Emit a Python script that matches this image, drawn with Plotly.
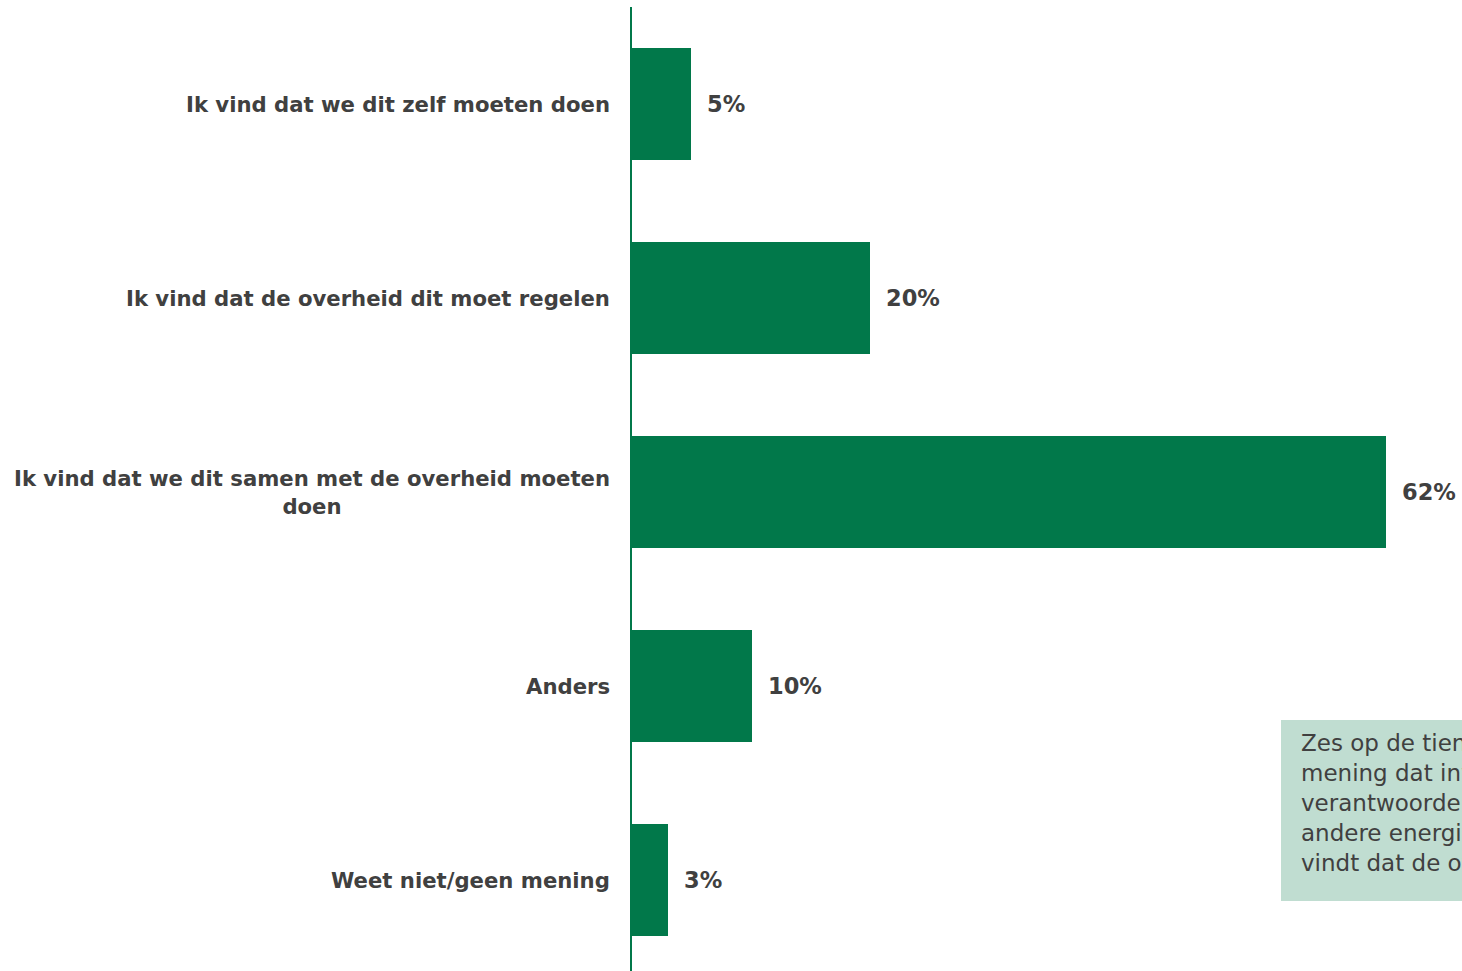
import plotly.graph_objects as go

categories = [
    "Ik vind dat we dit zelf moeten doen",
    "Ik vind dat de overheid dit moet regelen",
    "Ik vind dat we dit samen met de overheid moeten<br>doen",
    "Anders",
    "Weet niet/geen mening",
]
values = [4.9, 19.6, 62.0, 9.9, 3.0]
value_labels = ["5%", "20%", "62%", "10%", "3%"]
note_text = ("Zes op de tien respondenten is van de<br>"
             "mening dat inwoners en overheid samen<br>"
             "verantwoordelijk zijn voor de overstap op<br>"
             "andere energiebronnen. Een op de vijf<br>"
             "vindt dat de overheid dit moet regelen.")

GREEN = "#01784A"
GREY = "#404040"
FONT = "Verdana, DejaVu Sans, sans-serif"

W, H = 1462, 971
ml, mr, mt, mb = 631, 0, 7, 0
plot_w = W - ml - mr
plot_h = H - mt - mb
px_per_pct = (1386 - 631) / 62.0
band = 194.0

ypos = list(range(len(categories)))

fig = go.Figure()
fig.add_trace(go.Bar(
    x=values, y=ypos, orientation="h",
    marker=dict(color=GREEN, line=dict(width=0)),
    width=112 / band,
    hoverinfo="skip",
))

annotations = []
for yi, cat, v, lab in zip(ypos, categories, values, value_labels):
    annotations.append(dict(
        x=0, y=yi, xref="x", yref="y", text=f"<b>{cat}</b>",
        showarrow=False, xanchor="right", yanchor="middle", align="center",
        xshift=-19, font=dict(family=FONT, size=21.2, color=GREY),
    ))
    annotations.append(dict(
        x=v, y=yi, xref="x", yref="y", text=f"<b>{lab}</b>",
        showarrow=False, xanchor="left", yanchor="middle",
        xshift=14, font=dict(family=FONT, size=22.5, color=GREY),
    ))

# note box
bx0 = (1281 - ml) / plot_w
by_top = 1 - (720 - mt) / plot_h
by_bot = 1 - (901 - mt) / plot_h
annotations.append(dict(
    x=(1299 - ml) / plot_w, y=1 - (803 - mt) / plot_h, xref="paper", yref="paper",
    text=note_text, showarrow=False, xanchor="left", yanchor="middle", align="left",
    font=dict(family=FONT, size=23, color=GREY),
))

fig.update_layout(
    width=W, height=H,
    margin=dict(l=ml, r=mr, t=mt, b=mb, pad=0),
    plot_bgcolor="white", paper_bgcolor="white",
    showlegend=False,
    bargap=0,
    xaxis=dict(range=[0, plot_w / px_per_pct], visible=False, zeroline=False,
               showgrid=False, fixedrange=True),
    yaxis=dict(range=[-0.5 + plot_h / band, -0.5], showticklabels=False,
               showgrid=False, zeroline=False, showline=False, ticks="",
               fixedrange=True),
    shapes=[
        dict(type="line", xref="paper", yref="paper", x0=0, x1=0, y0=0, y1=1,
             line=dict(color=GREEN, width=2), layer="above"),
        dict(type="rect", xref="paper", yref="paper", x0=bx0, x1=1.2,
             y0=by_bot, y1=by_top, fillcolor="#C0DDD1", line=dict(width=0),
             layer="below"),
    ],
    annotations=annotations,
)

fig.write_html(
    "out.html",
    config={"displayModeBar": False},
    post_script="document.body.style.margin='0';document.body.style.overflow='hidden';",
)
